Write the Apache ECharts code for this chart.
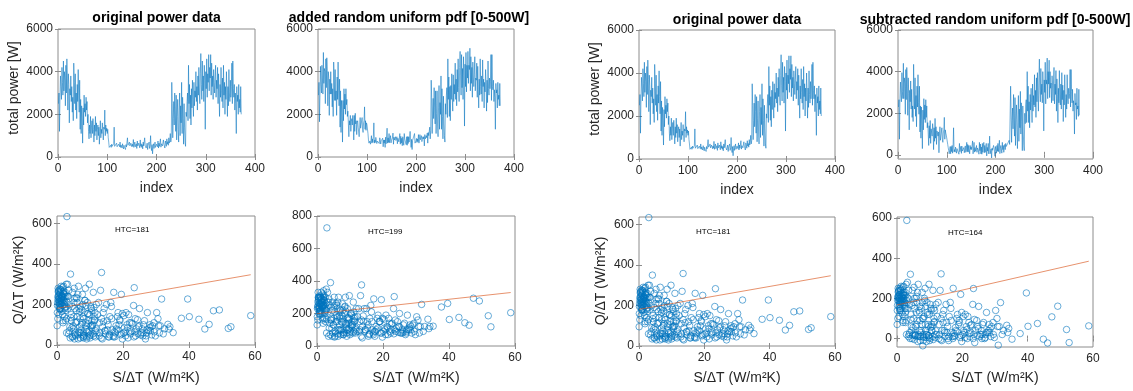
<!DOCTYPE html>
<html>
<head>
<meta charset="utf-8">
<script src="https://cdn.jsdelivr.net/npm/echarts@6/dist/echarts.min.js"></script>
<style>
html,body{margin:0;padding:0;background:#fff;}
#chart{width:1133px;height:391px;}
</style>
</head>
<body>
<div id="chart"></div>
<script>
// ---------------- DATA ----------------
const panelTitles = ['original power data', 'added random uniform pdf [0-500W]', 'original power data', 'subtracted random uniform pdf [0-500W]'];
const htcLabels = ['HTC=181', 'HTC=199', 'HTC=181', 'HTC=164'];
const powerLabel = 'total power [W]';
const indexLabel = 'index';
const ratioYLabel = 'Q/\u0394T (W/m\u00B2K)';
const ratioXLabel = 'S/\u0394T (W/m\u00B2K)';

const powerYTicks = [0, 2000, 4000, 6000];
const ratioYTicks = [0, 200, 400, 600];
const ratioYTicksAdded = [0, 200, 400, 600, 800];

// daily total power [W], index 1..372
const powerOriginal = [
2500,3000,1200,2800,3800,3300,2700,4200,3500,2900,
4500,3100,4000,3600,2400,4300,3000,4600,3700,2200,
3900,3400,1600,3200,2900,3800,2600,3300,2100,2800,
1700,4400,3500,2500,3900,2200,3000,1800,3400,2600,
4100,2900,2100,3600,1300,2700,1100,2400,1800,650,
2300,1500,2900,2100,2500,1900,2800,2200,2600,1600,
2000,1200,850,1500,1100,1900,900,1400,1700,1100,
1800,1300,700,1500,1000,1900,1200,1600,800,1300,
1500,1000,1400,600,1200,1700,900,1300,1100,1600,
1200,800,1400,1300,2200,1000,1500,1200,1350,1100,
1300,900,700,450,500,400,550,450,600,500,
550,480,620,1400,500,450,580,520,650,480,
550,420,600,530,480,700,450,560,510,420,
620,480,380,550,450,500,350,580,470,420,
900,550,600,480,700,520,450,650,560,480,
600,500,820,450,580,700,480,550,620,400,
750,520,480,650,560,430,800,500,620,450,
580,380,700,520,450,900,550,600,420,480,
650,350,560,480,700,400,520,1000,450,300,
580,150,480,620,400,550,700,450,380,600,
520,480,750,420,650,500,580,850,460,620,
700,520,480,800,600,550,420,750,650,500,
850,600,720,550,900,650,780,1100,700,850,
3500,2500,900,1800,2600,1500,3000,2200,1200,2900,
800,1900,2700,1300,700,2200,3000,1000,2400,1600,
3500,1100,2800,1800,600,2500,1400,700,500,2100,
1900,2600,3000,1700,4300,2500,3400,1800,2900,1500,
3200,2300,3600,2700,1900,3500,2400,3100,2800,4000,
2600,3300,2200,3800,2900,4200,3000,2500,3900,4850,
3400,2700,4500,3100,3800,2600,4300,3600,1300,4000,
3200,4600,2800,3900,3500,4800,3100,4200,3700,4800,
2900,4400,3300,3800,2700,4100,3500,3000,3700,4300,
2800,3600,3200,4200,2500,3900,3000,1900,3400,2800,
4200,3100,2600,3700,2300,4300,2900,3500,2000,3300,
2700,4000,3100,1900,3300,2400,4100,3000,2600,3600,
2800,3300,4400,2500,4500,3200,2800,3400,2200,3000,
2500,1100,3300,2600,2900,2000,3400,2300,2700,2100,3300,2000];

const powerAdded = [
2900,3500,1650,2900,4250,3400,3000,4300,3700,2950,
4900,3450,4150,4000,2500,4600,3250,4650,4050,2400,
4000,3700,1950,3650,2950,4000,2950,3450,2350,3200,
1900,4450,3800,2650,4100,2650,3100,1950,3750,2700,
4450,3100,2400,3650,1400,3100,1150,2650,2100,700,
2650,1700,3200,2250,2950,2000,3200,2450,2700,1900,
2150,1550,950,1700,1500,1950,1200,1650,1800,1500,
1950,1600,800,1950,1200,2050,1550,1700,1050,1600,
1700,1400,1450,950,1400,1850,1350,1400,1400,1850,
1300,1150,1600,1700,2350,1300,1700,1250,1600,1500,
1450,1100,800,650,600,750,600,750,1000,650,
850,680,970,1600,650,800,680,920,900,630,
750,820,700,830,630,900,800,610,760,720,
770,880,480,800,650,800,450,930,620,670,
1350,650,900,680,1100,670,700,1000,660,780,
800,900,1120,600,930,800,730,950,770,700,
950,620,880,900,710,780,1100,600,970,650,
880,530,950,920,550,1100,850,750,770,580,
950,550,960,630,950,700,620,1200,800,450,
830,350,780,720,750,700,1100,650,680,750,
870,680,850,720,1050,650,830,1050,810,720,
1000,720,830,950,850,950,520,1050,850,850,
1000,900,1120,650,1150,1000,980,1400,850,1250,
3600,2800,1100,2200,2750,1800,3250,2300,1550,3100,
1100,2050,3100,1500,950,2300,3350,1300,2550,2000,
3800,1300,3200,1900,850,2850,1550,1000,700,2500,
2000,2900,3250,1850,4600,2700,3750,1900,3300,1700,
3350,2700,3900,2800,2150,3850,2600,3400,2950,4400,
2700,3650,2400,4100,3050,4600,3250,2600,4200,4950,
3800,2900,4800,3250,4150,2700,4700,3800,1450,4350,
3300,4900,3050,4300,3700,4950,3450,4300,4100,5100,
3100,4700,3450,4200,2800,4450,3750,3300,3850,4700,
3100,3700,3600,4400,2800,4250,3150,2300,3650,2900,
4600,3300,2950,3800,2600,4550,3300,3650,2300,3500,
3050,4100,3500,2150,3600,2550,4500,3200,2900,3700,
3200,3550,4800,2650,4800,3300,3150,3600,2600,3150,
2800,1300,3450,3000,3150,2300,3500,2700,2900,2400,3450,2400];

const powerSubtracted = [
2300,2650,750,2700,3500,2900,2550,3950,3050,2700,
4400,2700,3700,3450,1950,4100,2650,4200,3600,1900,
3700,2950,1200,3100,2550,3550,2200,3150,1800,2350,
1600,4350,3100,2200,3700,1850,2850,1350,3300,2300,
3850,2500,1950,3300,1100,2350,800,2300,1400,300,
2150,1200,2700,1700,2400,1550,2650,1800,2350,1300,
1550,1000,450,1400,800,1650,550,1250,1300,900,
1500,1200,250,1300,650,1750,800,1350,500,1150,
1100,900,1100,100,950,1350,700,900,950,1300,
750,600,1050,1200,1800,750,1200,1050,950,900,
1000,500,350,200,50,100,400,50,400,150,
450,80,370,1300,150,250,130,370,350,80,
300,320,250,330,30,550,150,160,410,70,
420,180,230,100,350,100,100,430,120,220,
600,150,500,130,450,370,50,450,260,380,
250,300,670,50,280,600,130,350,170,300,
450,120,330,400,210,30,600,200,520,50,
380,30,550,120,200,600,100,450,120,130,
550,-50,360,180,550,50,270,900,50,100,
280,-150,330,220,150,450,350,150,-70,400,
370,80,450,170,550,150,380,700,60,320,
450,370,80,600,250,450,120,350,500,250,
550,400,320,400,550,550,530,700,500,550,
3300,2100,600,1650,2250,1250,2900,1800,900,2750,
450,1700,2400,1200,300,1950,2850,650,2200,1300,
3050,1000,2500,1600,200,2350,1050,450,200,2000,
1500,2400,2650,1550,4000,2100,3300,1550,2550,1300,
2900,2150,3200,2500,1550,3400,2100,2850,2400,3850,
2300,3100,1800,3700,2550,3950,2850,2100,3700,4600,
3100,2550,4150,2900,3400,2500,4000,3350,1150,3600,
3000,4450,2450,3600,3400,4650,2700,4000,3400,4550,
2750,4000,3200,3450,2500,3800,3350,2600,3450,4200,
2450,3400,2900,4050,2100,3650,2900,1550,3200,2500,
4050,2700,2400,3400,2200,3950,2650,3350,1600,3100,
2400,3850,2750,1800,2900,2200,3850,2700,2450,3200,
2700,2950,4100,2300,4100,3050,2500,3150,2100,2600,
2350,1000,2950,2400,2500,1700,3200,2200,2350,1850,3150,1900];

// S/dT (W/m2K) shared by all scatter panels
const sOverDT = [
58.7,52.7,51.9,49.2,47.4,46.1,44.8,43.0,40.1,39.6,
37.7,35.2,33.9,33.6,31.7,31.0,23.4,13.5,3.0,7.9,
0.2,0.5,0.8,1.1,1.4,1.7,2.0,2.3,2.6,0.3,
0.6,0.9,1.2,1.5,1.8,2.1,2.4,2.8,0.1,0.4,
0.7,1.0,1.3,1.6,1.9,2.2,2.5,2.9,0.35,0.65,
0.95,1.25,1.55,1.85,2.15,0.15,0.45,0.75,1.05,1.35,
0.25,0.55,0.85,1.15,1.45,1.75,2.05,2.35,2.65,0.05,
3.2,3.5,3.8,4.1,4.4,4.7,5.0,5.3,5.6,5.9,
6.2,6.5,6.8,7.1,7.4,7.7,8.0,8.3,8.6,8.9,
9.2,9.5,9.8,10.1,10.4,10.7,11.0,11.3,11.6,11.9,
3.4,3.9,4.3,4.8,5.2,5.7,6.1,6.6,7.0,7.5,
7.9,8.4,8.8,9.3,9.7,10.2,10.6,11.1,11.5,3.6,
4.5,5.4,6.3,7.2,8.1,9.0,9.9,10.8,11.7,4.0,
5.1,6.0,6.9,7.8,8.7,9.6,10.5,11.4,4.6,5.5,
12.3,12.8,13.2,13.8,14.3,14.7,15.2,15.8,16.3,16.8,
17.2,17.7,18.3,18.8,19.3,19.8,20.4,20.9,21.5,22.0,
22.6,23.2,23.8,24.4,25.0,25.6,26.2,26.8,27.4,28.0,
28.7,29.4,30.2,31.3,32.2,12.6,13.5,14.5,15.5,16.5,
17.5,18.5,19.5,20.6,21.7,22.8,24.0,25.3,26.5,27.8,
29.0,30.6,32.6,34.2,13.0,14.1,15.0,16.0,17.0,18.0,
19.0,20.2,21.2,22.3,23.5,24.7,26.0,27.1,28.3,29.8,
0.4,0.9,1.3,1.7,2.2,2.7,0.6,1.1,1.6,2.0,
0.3,0.8,1.2,1.9,2.4,0.5,1.0,1.5,2.6,2.9,
3.3,4.2,5.1,6.0,6.9,7.8,8.7,9.6,10.5,11.4,
3.7,4.6,5.5,6.4,7.3,8.2,9.1,10.0,10.9,11.8,
12.1,13.4,14.6,15.9,17.1,18.4,19.6,20.8,22.1,23.3,
24.6,25.8,27.0,28.2,29.5,30.8,12.9,14.0,15.3,16.6,
17.9,19.1,20.3,21.4,22.5,23.7,24.9,26.1,27.3,28.5,
4.9,5.8,6.7,7.6,8.5,9.4,10.3,11.2,2.9,3.1,
5.3,6.3,7.1,8.0,9.0,9.9,13.7,15.6,17.4,19.8];

// Q/dT (W/m2K)
const qOriginal = [
145,90,82,173,169,102,79,127,140,227,
132,61,79,102,227,60,283,358,634,40,
210,245,180,265,230,150,290,200,170,225,
190,275,215,240,120,255,185,300,160,235,
205,250,270,195,225,140,260,215,280,230,
175,205,245,110,235,195,260,220,185,240,
130,215,255,200,165,285,220,180,240,95,
300,55,200,350,120,260,80,230,45,170,
140,290,60,190,100,250,35,160,280,75,
210,120,300,50,180,95,260,140,40,200,
240,90,150,40,280,110,210,65,130,175,
50,220,95,155,70,190,120,45,160,270,
85,180,250,60,130,40,150,100,70,35,
140,230,90,200,110,60,85,120,190,50,
150,45,270,90,180,55,120,40,210,75,
260,60,140,100,50,155,85,160,35,110,
70,195,45,125,180,60,100,30,160,85,
50,110,160,95,55,210,130,70,100,190,
40,160,250,65,150,105,80,50,120,70,
95,130,80,90,60,115,200,140,45,80,
125,60,100,55,65,90,45,60,70,45,
265,230,290,210,250,190,150,275,235,265,
240,200,225,255,210,270,180,220,120,60,
180,135,210,115,165,140,195,105,170,125,
70,40,60,30,75,45,65,35,55,80,
60,35,70,50,40,75,55,45,65,40,
55,80,45,100,65,95,110,160,75,130,
95,120,145,85,110,130,95,60,75,90,
95,235,180,110,220,155,95,185,130,240,
30,50,35,60,30,45,30,40,65,30];

const qAdded = [
205,118,186,277,294,128,143,176,163,262,
240,122,107,165,256,80,304,376,727,70,
240,300,210,280,290,170,340,230,220,250,
230,300,260,250,160,310,200,350,180,280,
215,300,290,240,250,170,300,230,330,260,
190,250,270,140,280,230,290,235,220,270,
160,240,310,215,200,320,250,210,260,130,
330,60,250,390,170,270,130,250,80,190,
180,300,100,220,150,260,70,200,300,110,
230,160,310,90,200,130,270,170,80,230,
270,140,160,80,300,150,230,100,170,190,
100,240,130,170,110,200,150,90,180,290,
110,210,270,100,150,80,170,130,110,70,
170,250,130,220,140,100,120,150,220,60,
180,90,310,120,230,100,150,70,250,100,
290,90,170,150,80,170,110,190,70,140,
100,230,90,150,200,80,130,70,190,110,
80,140,180,120,90,230,160,90,130,210,
60,190,285,100,170,140,110,80,140,100,
130,160,120,120,100,150,230,170,80,100,
150,90,120,80,100,120,80,90,100,70,
300,260,330,240,280,220,200,300,270,300,
270,245,260,290,250,300,200,240,150,80,
210,160,240,150,185,170,215,140,190,155,
110,60,90,60,95,80,100,70,80,100,
90,60,100,75,70,110,80,70,90,75,
85,100,80,130,90,120,150,185,110,150,
120,150,165,115,135,160,120,90,100,120,
130,260,210,145,245,175,130,210,165,270,
55,75,70,85,60,80,50,60,90,55];

const qSubtracted = [
63,-20,45,161,108,-22,-3,75,61,227,
25,-3,30,66,179,-33,249,322,588,-36,
190,215,150,240,200,120,260,170,130,205,
160,250,180,225,90,215,165,270,140,200,
185,220,245,165,200,110,230,190,250,210,
140,185,215,80,200,165,235,200,150,210,
100,190,220,175,130,255,190,150,215,70,
280,10,170,320,60,240,20,200,15,130,
90,270,10,160,40,230,-10,110,250,20,
180,70,270,0,150,40,240,100,5,170,
200,30,120,15,255,60,180,20,90,150,
10,200,40,130,15,170,70,-5,140,240,
40,150,230,10,100,5,120,60,20,0,
100,210,40,180,70,15,40,80,165,20,
110,0,240,40,140,10,80,-10,180,30,
250,15,100,70,5,130,40,120,0,80,
30,170,-20,90,160,20,70,0,130,40,
10,80,140,60,20,180,100,40,60,150,
10,120,220,30,110,70,40,10,80,30,
60,100,40,50,20,80,170,110,10,40,
90,20,60,10,20,60,0,20,30,5,
230,200,260,180,215,150,110,240,205,230,
210,170,195,220,180,240,140,190,80,20,
150,95,180,70,130,100,160,60,140,85,
20,0,15,-15,30,5,20,-10,10,40,
20,-5,30,10,0,35,15,5,25,0,
15,40,5,70,20,60,70,120,30,90,
55,80,110,45,65,95,50,20,30,50,
55,200,140,70,190,120,55,150,90,205,
-5,10,-10,20,-15,5,-10,0,25,-15];

// linear fits [S/dT, Q/dT]
const fitOriginal = [[0, 181], [58.7, 347]];
const fitAdded = [[0, 199], [58.7, 329]];
const fitSubtracted = [[0, 167], [58.7, 385]];

// ---------------- CHART ----------------
const FONT = "'Liberation Sans', Arial, Helvetica, sans-serif";
const FRAME = '#8c8c8c';
const TXT = '#262626';
const BLUE = '#0072BD';
const ORANGE = '#D95319';

const panels = [
  {g: [58, 29, 197, 128], kind: 'power', data: powerOriginal, y: [0, 6000], yt: powerYTicks, title: 0, tx: 156.5, ty: 18, ylab: [14.5, 88], xlabY: 188},
  {g: [318, 29, 196, 128], kind: 'power', data: powerAdded, y: [0, 6000], yt: powerYTicks, title: 1, tx: 409, ty: 18, xlabY: 188},
  {g: [639, 30, 196, 129], kind: 'power', data: powerOriginal, y: [0, 6000], yt: powerYTicks, title: 2, tx: 737, ty: 20.5, ylab: [595.5, 89], xlabY: 190},
  {g: [898, 30, 195, 129], kind: 'power', data: powerSubtracted, y: [-200, 6000], yt: powerYTicks, title: 3, tx: 995, ty: 20.5, xlabY: 190},
  {g: [57, 216, 198, 129], kind: 'ratio', q: qOriginal, fit: fitOriginal, y: [0, 637], yt: ratioYTicks, htc: 0, hx: 115, hy: 230, ylab: [19, 280], xlabY: 378},
  {g: [317, 216, 198, 130], kind: 'ratio', q: qAdded, fit: fitAdded, y: [0, 800], yt: ratioYTicksAdded, htc: 1, hx: 368, hy: 231.5, xlabY: 378},
  {g: [639, 217, 196, 129], kind: 'ratio', q: qOriginal, fit: fitOriginal, y: [0, 637], yt: ratioYTicks, htc: 2, hx: 696, hy: 232, ylab: [601, 281], xlabY: 378},
  {g: [897, 217, 196, 130], kind: 'ratio', q: qSubtracted, fit: fitSubtracted, y: [-42, 605], yt: ratioYTicks, htc: 3, hx: 948, hy: 232.5, xlabY: 378}
];

const option = {animation: false, backgroundColor: '#fff', grid: [], xAxis: [], yAxis: [], series: [], graphic: []};

function tickStyle() { return {show: true, inside: true, length: 3, lineStyle: {color: FRAME, width: 1}}; }
const plain = v => String(v);

panels.forEach((p, k) => {
  option.grid.push({left: p.g[0], top: p.g[1], width: p.g[2], height: p.g[3], show: true, borderColor: FRAME, borderWidth: 1, backgroundColor: '#fff'});
  const isPower = p.kind === 'power';
  const xr = isPower ? {min: 0, max: 400, interval: 100} : {min: 0, max: 60, interval: 20};
  const xMain = option.xAxis.length;
  option.xAxis.push(Object.assign({gridIndex: k, type: 'value', position: 'bottom', axisLine: {show: false}, axisTick: tickStyle(), splitLine: {show: false},
    axisLabel: {color: TXT, fontSize: 12, fontFamily: FONT, margin: 6, showMinLabel: true, showMaxLabel: true, formatter: plain}}, xr));
  option.xAxis.push(Object.assign({gridIndex: k, type: 'value', position: 'top', axisLine: {show: false}, axisTick: tickStyle(), splitLine: {show: false}, axisLabel: {show: false}}, xr));
  const yMain = option.yAxis.length;
  option.yAxis.push({gridIndex: k, type: 'value', position: 'left', min: p.y[0], max: p.y[1], axisLine: {show: false}, splitLine: {show: false},
    axisTick: Object.assign(tickStyle(), {customValues: p.yt}),
    axisLabel: {customValues: p.yt, color: TXT, fontSize: 12, fontFamily: FONT, margin: 5, formatter: plain}});
  option.yAxis.push({gridIndex: k, type: 'value', position: 'right', min: p.y[0], max: p.y[1], axisLine: {show: false}, splitLine: {show: false},
    axisTick: Object.assign(tickStyle(), {customValues: p.yt}), axisLabel: {show: false}});

  const cx = p.g[0] + p.g[2] / 2;
  if (isPower) {
    option.series.push({type: 'line', xAxisIndex: xMain, yAxisIndex: yMain, showSymbol: false, symbol: 'none',
      data: p.data.map((v, i) => [i + 1, v]), lineStyle: {color: BLUE, width: 0.6, opacity: 0.9}, silent: true});
    option.graphic.push({type: 'text', x: p.tx, y: p.ty, style: {text: panelTitles[p.title], font: 'bold 14px ' + FONT, fill: '#000', textAlign: 'center', textVerticalAlign: 'middle'}});
    option.graphic.push({type: 'text', x: cx, y: p.xlabY, style: {text: indexLabel, font: '14px ' + FONT, fill: TXT, textAlign: 'center', textVerticalAlign: 'middle'}});
    if (p.ylab) option.graphic.push({type: 'text', x: p.ylab[0], y: p.ylab[1], rotation: Math.PI / 2, style: {text: powerLabel, font: '14px ' + FONT, fill: TXT, textAlign: 'center', textVerticalAlign: 'middle'}});
  } else {
    option.series.push({type: 'scatter', xAxisIndex: xMain, yAxisIndex: yMain, clip: false, symbol: 'circle', symbolSize: 6.5,
      data: sOverDT.map((x, i) => [x, p.q[i]]), itemStyle: {color: 'rgba(0,0,0,0)', borderColor: BLUE, borderWidth: 0.7, opacity: 0.85}, silent: true});
    option.series.push({type: 'line', xAxisIndex: xMain, yAxisIndex: yMain, symbol: 'none', data: p.fit, lineStyle: {color: ORANGE, width: 0.8, opacity: 0.8}, silent: true});
    option.graphic.push({type: 'text', x: p.hx, y: p.hy, style: {text: htcLabels[p.htc], font: '8px ' + FONT, fill: '#000', textAlign: 'left', textVerticalAlign: 'middle'}});
    option.graphic.push({type: 'text', x: cx, y: p.xlabY, style: {text: ratioXLabel, font: '14px ' + FONT, fill: TXT, textAlign: 'center', textVerticalAlign: 'middle'}});
    if (p.ylab) option.graphic.push({type: 'text', x: p.ylab[0], y: p.ylab[1], rotation: Math.PI / 2, style: {text: ratioYLabel, font: '14px ' + FONT, fill: TXT, textAlign: 'center', textVerticalAlign: 'middle'}});
  }
});

const chart = echarts.init(document.getElementById('chart'), null, {renderer: 'canvas'});
chart.setOption(option);
</script>
</body>
</html>
